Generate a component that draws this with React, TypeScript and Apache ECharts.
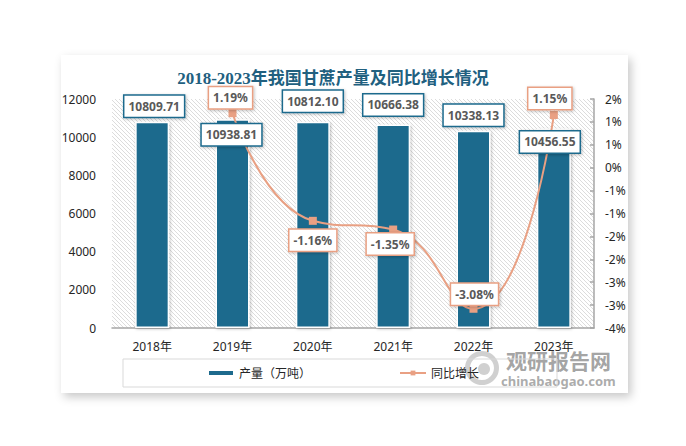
import React, { useEffect, useRef } from 'react';
import * as echarts from 'echarts';

const categories = ['2018年', '2019年', '2020年', '2021年', '2022年', '2023年'];
const production = [10809.71, 10938.81, 10812.1, 10666.38, 10338.13, 10456.55];
const growth: (number | null)[] = [null, 1.19, -1.16, -1.35, -3.08, 1.15];
const leftTicks = { min: 0, max: 12000, interval: 2000 };
const rightTicks = { min: -3.5, max: 1.5, interval: 0.5 };
const seriesNames = ['产量（万吨）', '同比增长'];
const titleText = '2018-2023年我国甘蔗产量及同比增长情况';

// label placement (styling only)
const barLabelPlace = [
  { position: 'top', distance: 5, offset: [2, 0] },
  { position: 'insideTop', distance: 5, offset: [-1, 0] },
  { position: 'top', distance: 10, offset: [0, 0] },
  { position: 'top', distance: 9, offset: [0, 0] },
  { position: 'top', distance: 5, offset: [0, 0] },
  { position: 'insideTop', distance: 3, offset: [-4, 0] },
];
const lineLabelPlace = [
  { position: 'top', distance: 1, offset: [0, 0] },
  { position: 'top', distance: 1, offset: [-2, 0] },
  { position: 'bottom', distance: 5, offset: [0, 0] },
  { position: 'bottom', distance: 0, offset: [-3, 0] },
  { position: 'top', distance: 0, offset: [1, 0] },
  { position: 'top', distance: 2, offset: [-4, 0] },
];

const BAR = '#1d6a8d';
const LINE = '#e9a083';
const FONT = "'Noto Sans', 'Noto Sans CJK SC', sans-serif";

function makeHatch() {
  const s = 4;
  const c = document.createElement('canvas');
  c.width = s;
  c.height = s;
  const ctx = c.getContext('2d')!;
  ctx.fillStyle = '#ffffff';
  ctx.fillRect(0, 0, s, s);
  ctx.strokeStyle = '#dcdcdc';
  ctx.lineWidth = 1;
  ctx.beginPath();
  ctx.moveTo(-1, -1);
  ctx.lineTo(s + 1, s + 1);
  ctx.moveTo(-1, s - 1);
  ctx.lineTo(1, s + 1);
  ctx.moveTo(s - 1, -1);
  ctx.lineTo(s + 1, 1);
  ctx.stroke();
  return c;
}

export default function App() {
  const ref = useRef<HTMLDivElement>(null);
  useEffect(() => {
    if (!ref.current) return;
    const chart = echarts.init(ref.current, undefined, { renderer: 'svg' });
    const hatch = makeHatch();
    const labelBox = (border: string) => ({
      show: true,
      backgroundColor: '#ffffff',
      borderColor: border,
      borderWidth: 1.5,
      padding: [4, 4, 4, 4],
      color: '#595959',
      fontWeight: 'bold',
      fontSize: 12,
      lineHeight: 13,
      fontFamily: FONT,
      shadowColor: 'rgba(0,0,0,0.25)',
      shadowBlur: 3,
      shadowOffsetX: 1,
      shadowOffsetY: 1,
    });
    const option: any = {
      animation: false,
      backgroundColor: '#ffffff',
      title: {
        text: titleText,
        left: 328,
        top: 65,
        textAlign: 'center',
        textStyle: {
          fontSize: 17,
          fontWeight: 'bold',
          color: '#21607f',
          fontFamily: "'Liberation Serif', 'Noto Sans CJK SC', serif",
        },
      },
      graphic: [
        {
          type: 'rect',
          z: -10,
          silent: true,
          shape: { x: 61, y: 55, width: 567, height: 338 },
          style: {
            fill: '#ffffff',
            shadowBlur: 10,
            shadowColor: 'rgba(0,0,0,0.22)',
            shadowOffsetX: 3,
            shadowOffsetY: 4,
          },
        },
        {
          type: 'group',
          z: 100,
          silent: true,
          children: [
            {
              type: 'ring',
              shape: { cx: 482, cy: 368, r: 17, r0: 12 },
              style: { fill: 'rgba(150,150,150,0.45)' },
            },
            {
              type: 'circle',
              shape: { cx: 484, cy: 369, r: 6 },
              style: { fill: 'rgba(150,150,150,0.45)' },
            },
            {
              type: 'text',
              x: 506,
              y: 349,
              style: {
                text: '观研报告网',
                fontSize: 21,
                fontWeight: 'bold',
                fill: 'rgba(140,140,140,0.8)',
                fontFamily: "'Noto Sans CJK SC', sans-serif",
              },
            },
            {
              type: 'text',
              x: 501,
              y: 374,
              style: {
                text: 'chinabaogao.com',
                fontSize: 13,
                fontWeight: 'bold',
                fill: 'rgba(150,150,150,0.8)',
                fontFamily: "'Noto Sans', sans-serif",
              },
            },
          ],
        },
      ],
      grid: {
        left: 112,
        right: 92,
        top: 99,
        bottom: 118,
        show: true,
        borderWidth: 0,
        backgroundColor: { image: hatch, repeat: 'repeat', imageWidth: 4, imageHeight: 4 },
      },
      legend: {
        left: 123,
        top: 359,
        padding: [8, 78, 8, 84],
        itemGap: 88,
        itemWidth: 26,
        itemHeight: 6,
        borderColor: '#d9d9d9',
        borderWidth: 1,
        textStyle: { fontSize: 12, color: '#262626', fontFamily: FONT },
        data: [
          { name: seriesNames[0], icon: 'rect' },
          { name: seriesNames[1] },
        ],
      },
      xAxis: {
        type: 'category',
        data: categories,
        axisLine: { show: true, lineStyle: { color: '#a6a6a6', width: 1.5 } },
        axisTick: { show: false },
        axisLabel: { color: '#262626', fontSize: 12, margin: 12, fontFamily: FONT },
        splitLine: { show: false },
      },
      yAxis: [
        {
          type: 'value',
          min: leftTicks.min,
          max: leftTicks.max,
          interval: leftTicks.interval,
          axisLine: { show: false },
          axisTick: { show: false },
          splitLine: { show: false },
          axisLabel: {
            color: '#262626',
            fontSize: 12,
            margin: 16,
            fontFamily: FONT,
            formatter: (v: number) => String(v),
          },
        },
        {
          type: 'value',
          position: 'right',
          min: rightTicks.min,
          max: rightTicks.max,
          interval: rightTicks.interval,
          axisLine: { show: true, lineStyle: { color: '#a6a6a6', width: 1.5 } },
          axisTick: { show: true, inside: true, length: 4, lineStyle: { color: '#a6a6a6', width: 1.5 } },
          splitLine: { show: false },
          axisLabel: {
            color: '#262626',
            fontSize: 12,
            margin: 11,
            fontFamily: FONT,
            formatter: (v: number) => {
              const r = Math.sign(v) * Math.round(Math.abs(v) + 1e-9);
              return (r === 0 ? 0 : r) + '%';
            },
          },
        },
      ],
      series: [
        {
          name: seriesNames[0],
          type: 'bar',
          barWidth: 34,
          barGap: '-100%',
          z: 2,
          itemStyle: {
            color: BAR,
            borderColor: '#ffffff',
            borderWidth: 1.5,
            shadowColor: 'rgba(0,0,0,0.25)',
            shadowBlur: 3,
            shadowOffsetX: 1,
            shadowOffsetY: 1,
          },
          data: production,
        },
        {
          name: seriesNames[1],
          type: 'line',
          yAxisIndex: 1,
          smooth: 0.5,
          z: 3,
          symbol: 'rect',
          symbolSize: 8,
          lineStyle: { color: LINE, width: 2 },
          itemStyle: { color: LINE },
          data: growth.map((v, i) =>
            v === null
              ? '-'
              : {
                  value: v,
                  label: { ...labelBox(LINE), ...lineLabelPlace[i], formatter: (p: any) => p.value.toFixed(2) + '%' },
                }
          ),
        },
        {
          name: 'barLabels',
          type: 'bar',
          barWidth: 34,
          barGap: '-100%',
          z: 4,
          silent: true,
          itemStyle: { color: 'rgba(0,0,0,0)' },
          data: production.map((v, i) => ({
            value: v,
            label: { ...labelBox(BAR), ...barLabelPlace[i], formatter: (p: any) => p.value.toFixed(2) },
          })),
        },
      ],
    };
    chart.setOption(option);
    return () => chart.dispose();
  }, []);
  return (
    <div
      ref={ref}
      style={{ position: 'absolute', left: 0, top: 0, width: 686, height: 446 }}
    />
  );
}
